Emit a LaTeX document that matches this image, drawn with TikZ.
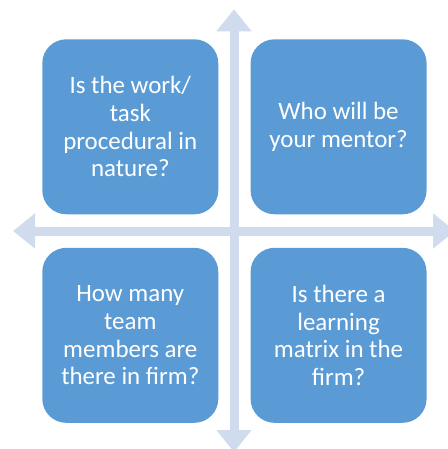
\documentclass[tikz,border=0pt]{standalone}
\usepackage{fontspec}
\setmainfont{Carlito}
\usetikzlibrary{positioning,arrows.meta}
\definecolor{boxblue}{RGB}{91,155,213}
\definecolor{axisblue}{RGB}{208,220,238}

\begin{document}
\begin{tikzpicture}[x=0.75pt, y=-0.75pt, node distance={24.75pt and 23.8pt},
  quad/.style = {fill=boxblue, rounded corners=18pt, minimum width=132pt, minimum height=131.25pt,
    inner sep=0pt, text=white, align=center, font=\fontsize{18.7}{20.8}\selectfont},
  axis/.style = {draw=axisblue, line width=6.75pt,
    {Triangle[width=25.5pt,length=16.5pt,fill=axisblue]}-{Triangle[width=25.5pt,length=16.5pt,fill=axisblue]}}]
\useasboundingbox (0,0) rectangle (448,449);
\coordinate (north) at (234,9.3);
\coordinate (south) at (234,452);
\coordinate (west) at (13,231);
\coordinate (east) at (455,231);
\draw[axis] (west) -- (east);
\draw[axis] (north) -- (south);
\node[quad] (work) at (130.3,126.8) {Is the work/\\task\\procedural in\\nature?};
\node[quad] (mentor) [right=of work] {Who will be\\your mentor?};
\node[quad] (team) [below=of work] {How many\\team\\members are\\there in firm?};
\node[quad] (matrix) [below=of mentor] {Is there a\\learning\\matrix in the\\firm?};
\end{tikzpicture}
\end{document}
